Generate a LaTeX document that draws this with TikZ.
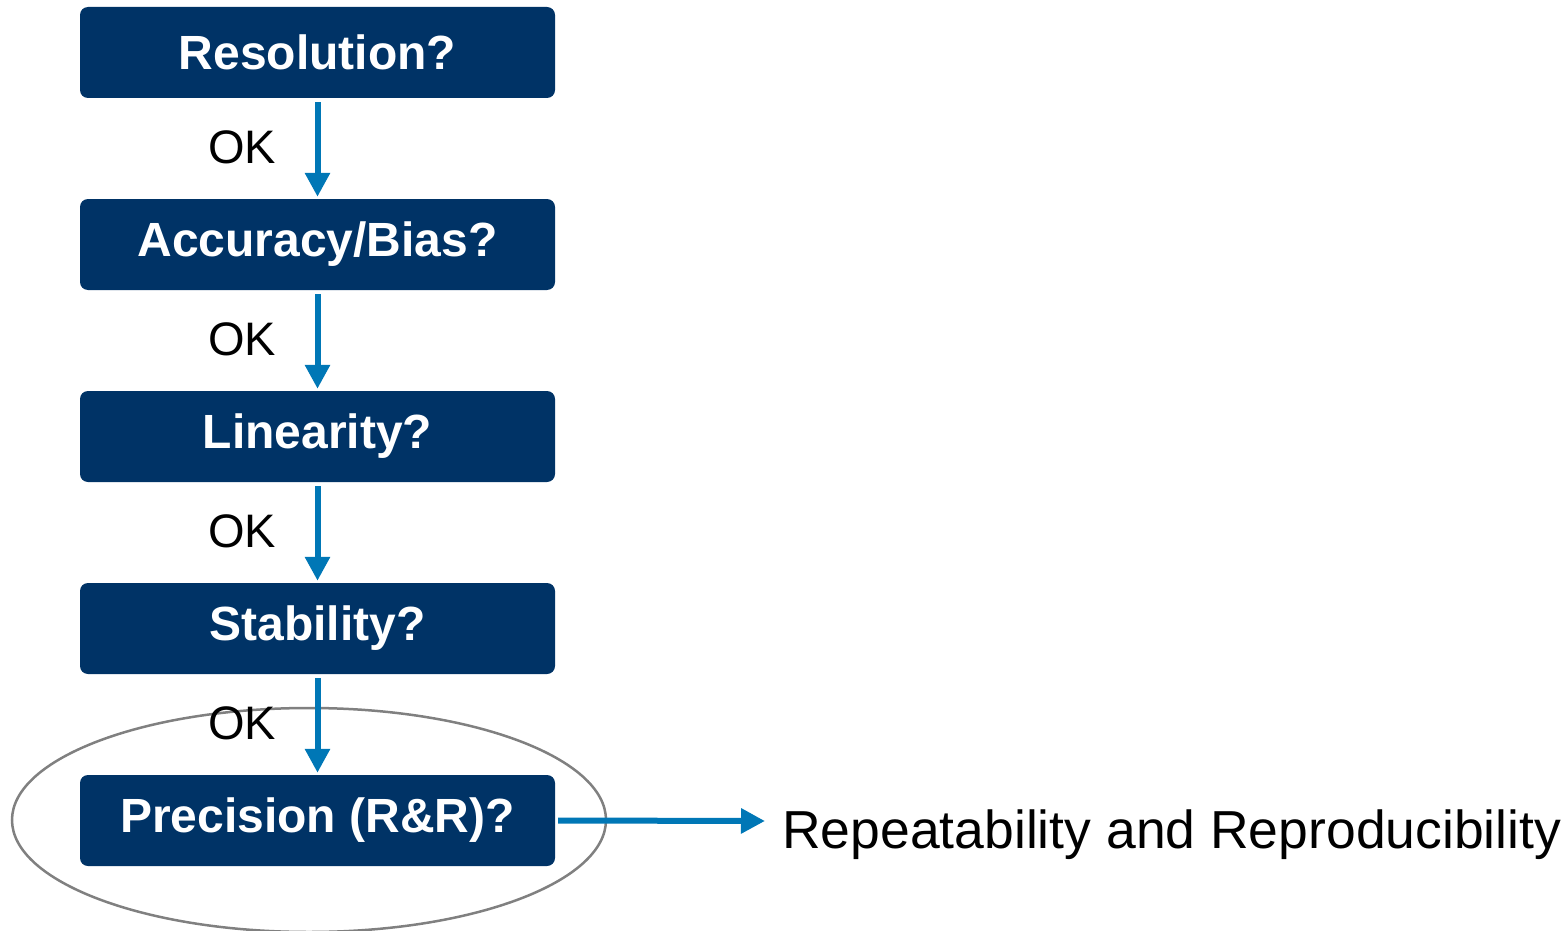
\documentclass[tikz,border=0pt]{standalone}
\usepackage{fontspec}
\setmainfont{Liberation Sans}
\usetikzlibrary{arrows.meta}
\definecolor{navy}{HTML}{003366}
\definecolor{flowblue}{HTML}{0077B6}
\definecolor{ringgray}{HTML}{808080}
\begin{document}
\begin{tikzpicture}[x=1pt,y=-1pt,
  stepbox/.style={fill=navy, rounded corners=8pt, minimum width=475pt,
    minimum height=91pt, inner sep=0pt, text=white,
    font=\fontsize{48}{54}\selectfont\bfseries},
  flow/.style={draw=flowblue, line width=6pt,
    -{Triangle[width=24pt,length=24pt]}},
  oklabel/.style={inner sep=0pt, font=\fontsize{47}{54}\selectfont},
  ring/.style={draw=ringgray, line width=2.5pt},
]
\useasboundingbox (0,0) rectangle (1567,931);
\clip (0,0) rectangle (1567,931);

% ring around the last step
\draw[ring] (309,820) ellipse [x radius=297, y radius=112];

% the chain of checks
\node[stepbox] (res)  at (317.5,52.5)  {Resolution?};
\node[stepbox] (acc)  at (317.5,244.5) {Accuracy/Bias?};
\node[stepbox] (lin)  at (317.5,436.5) {Linearity?};
\node[stepbox] (stab) at (317.5,628.5) {Stability?};
\node[stepbox] (prec) at (317.5,820.5) {Precision (R\&R)?};

\node[oklabel] (ok1) at (242,147) {OK};
\node[oklabel] (ok2) at (242,339) {OK};
\node[oklabel] (ok3) at (242,531) {OK};
\node[oklabel] (ok4) at (242,723) {OK};

\draw[flow, shorten <=4pt, shorten >=2pt] (res.south) -- (acc.north);
\draw[flow, shorten <=4pt, shorten >=2pt] (acc.south) -- (lin.north);
\draw[flow, shorten <=4pt, shorten >=2pt] (lin.south) -- (stab.north);
\draw[flow, shorten <=4pt, shorten >=2pt] (stab.south) -- (prec.north);

% outcome of the precision study
\node[inner sep=0pt, anchor=base west, font=\fontsize{53.5}{60}\selectfont]
  (rr) at (782,848) {Repeatability and Reproducibility};
\coordinate (rrin) at (765,821);
\draw[flow, shorten <=3pt] (prec.east) -- (rrin);
\end{tikzpicture}
\end{document}
